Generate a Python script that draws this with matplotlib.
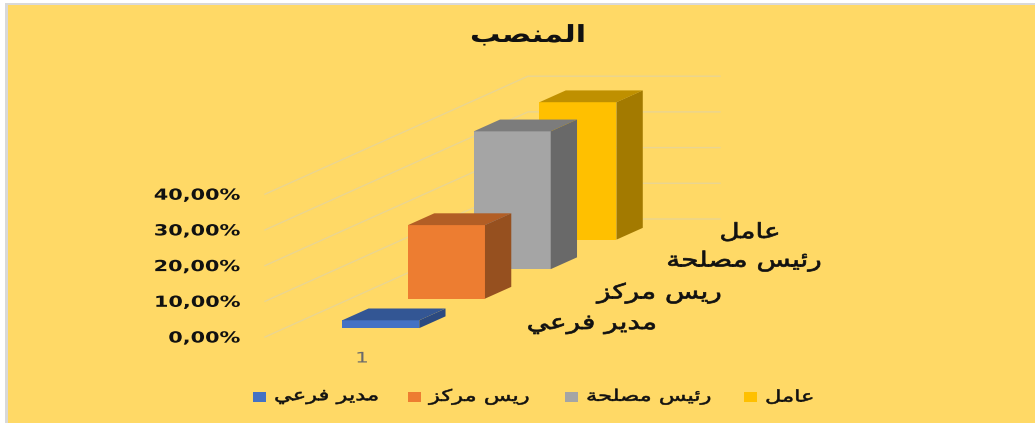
import matplotlib
matplotlib.use("Agg")
import matplotlib.pyplot as plt
from matplotlib.patches import Polygon, Rectangle
from matplotlib.patheffects import AbstractPathEffect
from matplotlib.transforms import Affine2D

title = "المنصب"
categories = ["مدير فرعي", "ريس مركز", "رئيس مصلحة", "عامل"]
values = [2.2, 20.6, 38.6, 38.5]
ticks = [0, 10, 20, 30, 40]
tick_labels = ["0,00%", "10,00%", "20,00%", "30,00%", "40,00%"]
x_label = "1"

front = ["#4472C4", "#ED7D31", "#A5A5A5", "#FFC000"]
top = ["#335694", "#B25E25", "#7C7C7C", "#BF9000"]
side = ["#2C4A80", "#96501F", "#696969", "#A37A00"]
grid_color = "#EAD591"
text_font = "DejaVu Sans"

# joining forms: isolated, final, initial, medial
forms = {
    "ا": (0xFE8D, 0xFE8E), "ة": (0xFE93, 0xFE94), "د": (0xFEA9, 0xFEAA),
    "ر": (0xFEAD, 0xFEAE), "ز": (0xFEAF, 0xFEB0),
    "ئ": (0xFE89, 0xFE8A, 0xFE8B, 0xFE8C), "ب": (0xFE8F, 0xFE90, 0xFE91, 0xFE92),
    "ح": (0xFEA1, 0xFEA2, 0xFEA3, 0xFEA4), "س": (0xFEB1, 0xFEB2, 0xFEB3, 0xFEB4),
    "ص": (0xFEB9, 0xFEBA, 0xFEBB, 0xFEBC), "ع": (0xFEC9, 0xFECA, 0xFECB, 0xFECC),
    "ف": (0xFED1, 0xFED2, 0xFED3, 0xFED4), "ك": (0xFED9, 0xFEDA, 0xFEDB, 0xFEDC),
    "ل": (0xFEDD, 0xFEDE, 0xFEDF, 0xFEE0), "م": (0xFEE1, 0xFEE2, 0xFEE3, 0xFEE4),
    "ن": (0xFEE5, 0xFEE6, 0xFEE7, 0xFEE8), "ي": (0xFEF1, 0xFEF2, 0xFEF3, 0xFEF4),
}


def shape(word):
    # matplotlib does no shaping, so pick the joined glyphs and lay them out visually
    out = []
    for i, c in enumerate(word):
        if c not in forms:
            out.append(c)
            continue
        before = i > 0 and word[i - 1] in forms and len(forms[word[i - 1]]) == 4
        after = i + 1 < len(word) and word[i + 1] in forms and len(forms[c]) == 4
        out.append(chr(forms[c][before + 2 * after]))
    return "".join(out)[::-1]


class Widen(AbstractPathEffect):
    # stretches glyphs sideways around a fixed x and thickens them a little
    def __init__(self, anchor, sx, weight=0.0):
        super().__init__()
        self.anchor = anchor
        self.sx = sx
        self.weight = weight

    def draw_path(self, renderer, gc, tpath, affine, rgbFace=None):
        wide = affine + Affine2D().translate(-self.anchor, 0).scale(self.sx, 1).translate(self.anchor, 0)
        gc0 = renderer.new_gc()
        gc0.copy_properties(gc)
        if self.weight > 0:
            gc0.set_linewidth(self.weight)
            gc0.set_foreground(rgbFace)
        renderer.draw_path(gc0, tpath, wide, rgbFace)
        gc0.restore()


fig = plt.figure(figsize=(10.35, 4.23), dpi=100, facecolor="white")
ax = fig.add_axes([0, 0, 1, 1])
ax.set_xlim(0, 1035)
ax.set_ylim(423, 0)
ax.axis("off")

# chart area runs off the right and bottom edges, frame shows on two sides only
ax.add_patch(Rectangle((5, 3), 1030, 420, fc="#D9D9D9", ec="none"))
ax.add_patch(Rectangle((8, 5), 1027, 418, fc="#FFD966", ec="none"))


def label(x, y, s, size, sx, ha="left", weight=0.0, **kw):
    kw.setdefault("color", "#111111")
    t = ax.text(x, y, s, ha=ha, va="center", fontsize=size, family=text_font, zorder=10, **kw)
    t.set_path_effects([Widen(x, sx, weight)])
    return t


def project(x, depth, pct):
    # oblique view: x runs along the front, depth goes up and to the right
    return 265 + x + 263 * depth, 337 - 118 * depth - 3.57 * pct


for t, lab in zip(ticks, tick_labels):
    pts = [project(0, 0, t), project(0, 1, t), project(192, 1, t)]
    ax.plot(*zip(*pts), color=grid_color, lw=1, zorder=1)
    label(240, project(0, 0, t)[1] + 1, lab, 11, 1.36, ha="right", fontweight="bold")

bar_w = 77
bar_d = 0.1
for i in range(len(values) - 1, -1, -1):
    x0 = 57.5
    d0 = 0.075 + 0.25 * i
    v = values[i]
    z = 2 + (len(values) - i)
    ax.add_patch(Polygon([project(x0, d0, 0), project(x0 + bar_w, d0, 0),
                          project(x0 + bar_w, d0, v), project(x0, d0, v)],
                         fc=front[i], ec="none", zorder=z))
    ax.add_patch(Polygon([project(x0, d0, v), project(x0 + bar_w, d0, v),
                          project(x0 + bar_w, d0 + bar_d, v), project(x0, d0 + bar_d, v)],
                         fc=top[i], ec="none", zorder=z))
    ax.add_patch(Polygon([project(x0 + bar_w, d0, 0), project(x0 + bar_w, d0 + bar_d, 0),
                          project(x0 + bar_w, d0 + bar_d, v), project(x0 + bar_w, d0, v)],
                         fc=side[i], ec="none", zorder=z))

# series names along the depth axis
depth_label_x = [657, 722, 822, 781]
depth_label_y = [324, 293, 261, 232]
for name, lx, ly in zip(categories, depth_label_x, depth_label_y):
    label(lx, ly, shape(name), 15, 1.34, ha="right", weight=0.5)

label(362, 358, x_label, 10.5, 1.5, ha="center", color="#6b6b6b")
label(528, 35, shape(title), 17, 1.28, ha="center", fontweight="bold")

legend_x = [253, 408, 565, 744]
for i, name in enumerate(categories):
    ax.add_patch(Rectangle((legend_x[i], 392), 13, 10, fc=front[i], ec="none"))
    label(legend_x[i] + 21, 397, shape(name), 11.5, 1.41, weight=0.4)

fig.savefig("out.png", dpi=100, facecolor="white")
